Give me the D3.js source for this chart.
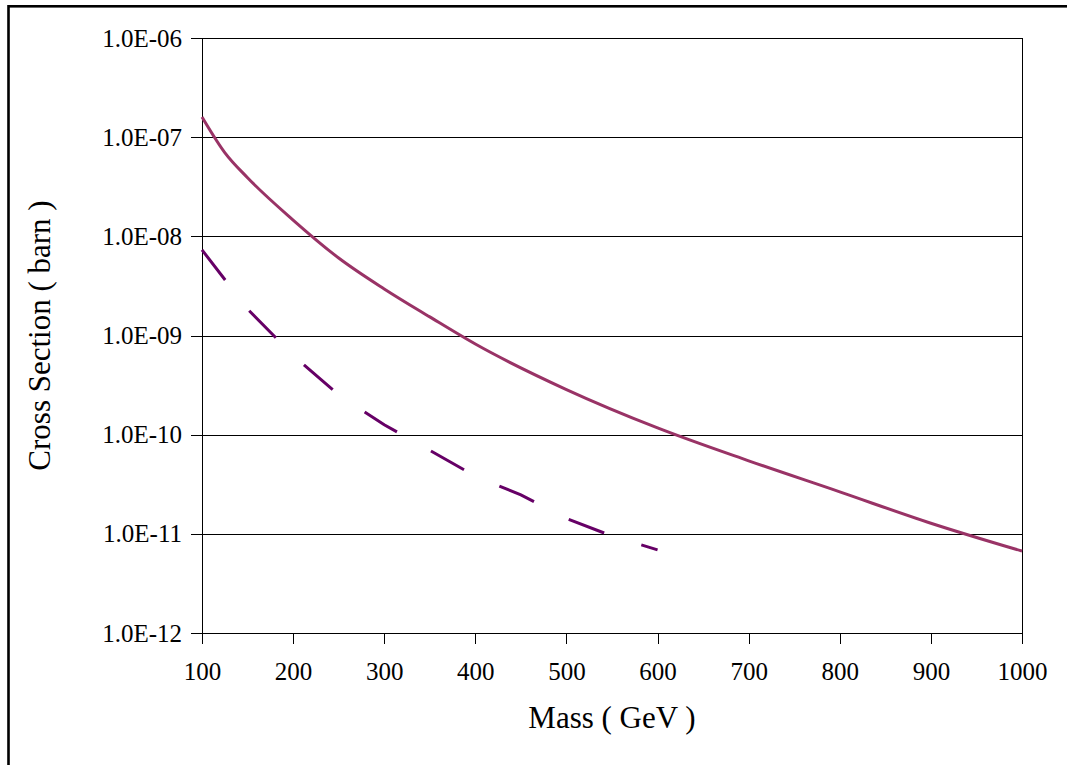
<!DOCTYPE html>
<html>
<head>
<meta charset="utf-8">
<script src="https://cdn.jsdelivr.net/npm/d3@7"></script>
<style>
  body { margin: 0; background: #fff; }
  .grid line { stroke: #000; stroke-width: 1; shape-rendering: crispEdges; }
  .axis path, .axis line { stroke: #000; shape-rendering: crispEdges; }
</style>
</head>
<body>
<div id="chart"></div>
<script>
// data
var massSolid = [100, 125, 150, 200, 250, 300, 350, 400, 500, 600, 700, 800, 900, 1000];
var sigmaSolid = [1.6e-7, 7.0e-8, 3.9e-8, 1.46e-8, 6.05e-9, 2.95e-9, 1.54e-9, 8.2e-10, 2.85e-10, 1.17e-10, 5.45e-11, 2.65e-11, 1.28e-11, 6.7e-12];

var massDashed = [100, 150, 200, 250, 300, 350, 400, 450, 500, 550, 600];
var sigmaDashed = [7.3e-9, 1.85e-9, 6.3e-10, 2.52e-10, 1.26e-10, 6.95e-11, 3.82e-11, 2.47e-11, 1.43e-11, 9.5e-12, 6.9e-12];

var xTicks = [100, 200, 300, 400, 500, 600, 700, 800, 900, 1000];
var yTicks = [1e-12, 1e-11, 1e-10, 1e-9, 1e-8, 1e-7, 1e-6];

var serif = '"Liberation Serif", "Times New Roman", Times, serif';

var W = 1067, H = 765;
var margin = {top: 38, right: 45, bottom: 132, left: 202};
var width = W - margin.left - margin.right,
    height = H - margin.top - margin.bottom;

var svg = d3.select("#chart").append("svg")
    .attr("width", W)
    .attr("height", H)
    .attr("font-family", serif);

// outer frame
svg.append("rect")
    .attr("x", 8.5).attr("y", 6.3)
    .attr("width", W + 10).attr("height", H + 10)
    .attr("fill", "none")
    .attr("stroke", "#000")
    .attr("stroke-width", 2.6);

var g = svg.append("g")
    .attr("transform", "translate(" + margin.left + "," + margin.top + ")");

var x = d3.scaleLinear().domain([100, 1000]).range([0, width]);
var y = d3.scaleLog().domain([1e-12, 1e-6]).range([height, 0]);

// horizontal gridlines
g.append("g").attr("class", "grid")
  .selectAll("line")
  .data(yTicks)
  .enter().append("line")
    .attr("x1", 0).attr("x2", width)
    .attr("y1", function(d) { return Math.round(y(d)) + 0.5; })
    .attr("y2", function(d) { return Math.round(y(d)) + 0.5; });

// plot border
g.append("rect")
    .attr("x", 0.5).attr("y", 0.5)
    .attr("width", width).attr("height", height)
    .attr("fill", "none")
    .attr("stroke", "#000")
    .style("shape-rendering", "crispEdges");

var xAxis = d3.axisBottom(x).tickValues(xTicks).tickSize(11).tickPadding(18).tickFormat(d3.format("d"));
var yAxis = d3.axisLeft(y).tickValues(yTicks).tickSize(11).tickPadding(9)
    .tickFormat(function(d) {
        var e = Math.round(Math.log10(d));
        return "1.0E-" + (-e < 10 ? "0" + (-e) : -e);
    });

g.append("g").attr("class", "x axis")
    .attr("transform", "translate(0," + height + ")")
    .call(xAxis)
    .call(function(s) { s.select(".domain").remove(); })
    .attr("font-family", serif)
    .selectAll("text").attr("font-family", serif).attr("fill", "#000").style("font-size", "25px");

g.append("g").attr("class", "y axis")
    .call(yAxis)
    .call(function(s) { s.select(".domain").remove(); })
    .attr("font-family", serif)
    .selectAll("text").attr("font-family", serif).attr("fill", "#000").style("font-size", "25px");

var solidLine = d3.line()
    .x(function(d) { return x(d[0]); })
    .y(function(d) { return y(d[1]); })
    .curve(d3.curveMonotoneX);

var dashedLine = d3.line()
    .x(function(d) { return x(d[0]); })
    .y(function(d) { return y(d[1]); });

g.append("path")
    .attr("d", solidLine(d3.zip(massSolid, sigmaSolid)))
    .attr("fill", "none")
    .attr("stroke", "#993366")
    .attr("stroke-width", 3);

g.append("path")
    .attr("d", dashedLine(d3.zip(massDashed, sigmaDashed)))
    .attr("fill", "none")
    .attr("stroke", "#660066")
    .attr("stroke-width", 3)
    .attr("stroke-dasharray", "38,39");

// axis titles
svg.append("text")
    .attr("x", margin.left + width / 2)
    .attr("y", 728)
    .attr("text-anchor", "middle")
    .attr("font-family", serif)
    .style("font-size", "31px")
    .text("Mass ( GeV )");

svg.append("text")
    .attr("transform", "translate(50," + (margin.top + height / 2) + ") rotate(-90)")
    .attr("text-anchor", "middle")
    .attr("font-family", serif)
    .style("font-size", "31px")
    .text("Cross Section ( barn )");
</script>
</body>
</html>
